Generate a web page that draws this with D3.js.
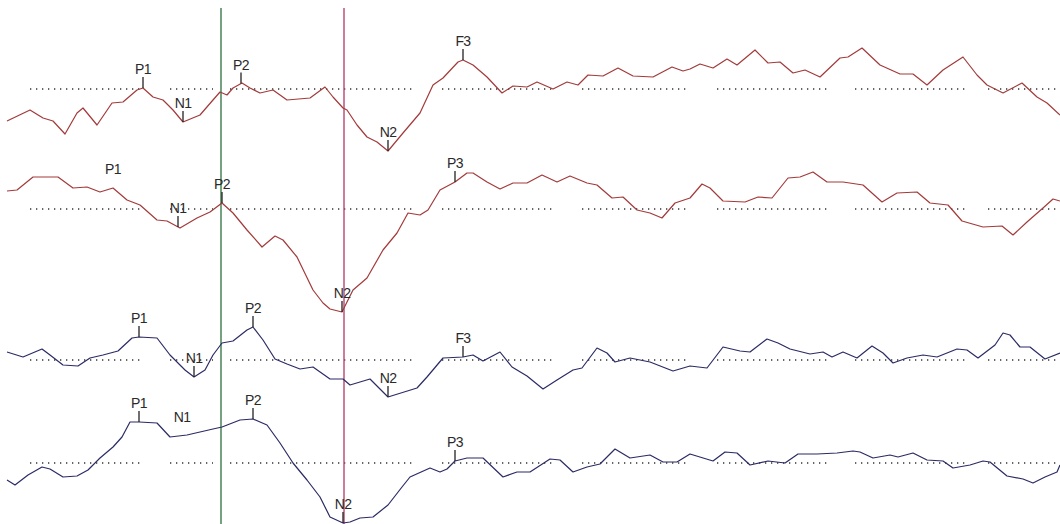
<!DOCTYPE html>
<html lang="en">
<head>
<meta charset="UTF-8" />
<script src="https://d3js.org/d3.v7.min.js"></script>
<title>ERP</title>
<style>
  body { margin: 0; background: #fff; }
  .trace { fill: none; stroke-width: 1.2; stroke-linejoin: round; }
  .base { stroke: #333; stroke-width: 1.3; stroke-dasharray: 1.3 4.7; }
  .tick { stroke: #222; stroke-width: 1.3; }
  .lbl { font-family: "Liberation Sans", Arial, sans-serif; font-size: 14px; fill: #2a2a2a; text-anchor: middle; letter-spacing: -0.6px; }
</style>
</head>
<body>
<script>
var width = 1060, height = 524;

// time (ms) of each sample, value in microvolts
var t1 = [-43,-20,-7,3,15,27,33,47,62,73,87,93,103,113,123,133,150,163,170,177,183,192,200,210,223,237,260,275,283,293,297,307,317,327,338,353,370,383,393,408,413,423,437,452,463,477,487,503,517,528,538,553,568,583,603,622,633,640,650,663,677,687,705,718,730,743,755,770,790,798,812,830,850,863,877,893,913,927,937,953,972,987,997,1010];
var v1 = [-3.2,-2.1,-2.9,-3.2,-4.5,-2.4,-1.9,-3.6,-1.4,-1.3,-0.1,0.1,-0.8,-1.1,-2.1,-3.3,-2.6,-1.1,-0.3,-0.6,0.1,0.6,0.1,-0.4,-0.1,-1.1,-0.9,0.2,-0.8,-1.9,-2.1,-3.6,-4.8,-5.3,-6.2,-4.4,-2.4,0.4,1.1,2.7,2.9,2.4,1.2,-0.4,0.3,0.2,0.7,0.0,0.7,0.4,1.4,1.3,2.1,1.3,1.2,2.2,1.8,2.0,2.5,2.1,3.0,2.4,3.9,2.6,2.7,1.6,1.9,1.2,3.1,3.2,4.1,2.4,1.5,1.5,0.4,1.9,3.2,1.4,0.4,-0.4,0.6,-0.8,-1.4,-2.6];

var t2 = [-43,-33,-17,8,23,37,50,63,77,90,107,117,130,147,160,172,183,197,212,225,233,247,263,273,280,292,303,317,333,347,358,370,378,390,405,417,423,437,450,463,477,492,507,520,537,547,562,573,587,600,612,625,640,652,660,673,695,708,722,738,750,763,777,793,813,832,847,867,880,898,912,933,952,963,977,993,1003,1010];
var v2 = [1.8,1.9,3.2,3.2,2.1,2.2,1.7,2.1,0.9,0.4,-1.1,-1.2,-1.9,-0.9,-0.3,0.6,-0.4,-2.1,-3.8,-2.7,-3.1,-4.8,-8.1,-9.4,-10.0,-10.3,-8.1,-6.9,-4.1,-2.4,-0.4,-0.6,-0.1,1.9,2.7,3.6,3.6,2.7,2.0,2.6,2.6,3.4,2.7,3.3,2.6,2.4,1.1,1.2,-0.1,-0.4,-0.9,0.6,1.1,2.5,2.1,0.8,0.7,1.2,1.1,3.1,3.2,3.7,2.7,2.7,2.4,0.7,1.6,1.7,0.6,0.4,-1.2,-1.8,-1.7,-2.6,-1.3,0.1,1.0,0.8];

var t3 = [-43,-27,-8,0,13,28,40,53,68,82,89,107,120,135,144,155,163,172,183,197,203,213,225,237,250,263,280,293,300,320,338,367,377,393,413,423,433,450,462,477,493,507,523,532,547,557,565,580,600,623,640,657,673,690,700,717,728,740,760,773,782,793,807,822,833,843,857,873,887,907,917,928,945,953,960,970,980,995,1010];
var v3 = [0.8,0.3,1.1,0.5,-0.5,-0.6,0.2,0.5,0.9,2.2,2.3,2.2,0.5,-1.0,-1.7,-1.0,0.5,1.7,1.9,3.0,3.3,2.0,0.1,-0.4,-0.9,-0.7,-1.9,-1.9,-2.5,-1.9,-3.7,-2.8,-1.7,0.2,0.3,0.5,-0.1,0.8,-0.7,-1.6,-2.9,-2.0,-1.0,-0.8,1.2,0.7,-0.2,0.2,-0.2,-1.1,-0.6,-0.8,1.3,0.9,0.8,2.1,1.7,1.1,0.6,0.8,0.3,0.8,0.2,1.4,0.7,-0.3,0.2,0.5,0.3,1.1,1.0,0.2,1.5,2.7,2.5,1.3,1.3,0.1,0.7];

var t4 = [-43,-35,-22,-8,0,13,27,38,50,63,72,80,89,107,120,137,150,163,172,190,203,217,230,243,257,270,280,293,300,310,323,338,352,360,380,390,397,405,417,433,453,467,480,500,510,523,537,550,565,580,600,613,627,640,663,675,687,700,718,735,748,767,787,803,810,823,840,848,863,877,893,903,920,933,940,957,973,983,995,1007,1010];
var v4 = [-1.7,-2.2,-1.2,-0.4,-0.6,-1.4,-1.3,-0.7,0.5,1.6,2.6,4.1,4.1,4.0,2.6,2.8,3.1,3.4,3.6,4.3,4.4,3.8,2.0,0.0,-1.7,-3.4,-5.4,-6.0,-5.9,-5.5,-5.4,-4.2,-2.4,-1.4,-0.5,-0.9,-0.6,0.2,0.5,0.5,-1.4,-0.9,-0.9,0.4,0.3,-0.9,-0.4,-0.1,1.4,0.5,0.8,0.1,0.1,0.9,0.2,1.1,1.0,-0.2,0.2,0.0,0.9,0.9,1.0,1.2,1.1,0.5,0.8,0.6,1.0,0.3,0.2,-0.5,-0.2,0.2,0.1,-1.3,-1.6,-2.0,-1.4,-0.9,-0.2];

// peak labels: [trace, name, time ms, has tick]
var peaks = [
  [0,"P1",93,1],[0,"N1",133,1],[0,"P2",191,1],[0,"N2",338,1],[0,"F3",413,1],
  [1,"P1",63,0],[1,"N1",128,1],[1,"P2",172,1],[1,"N2",292,1],[1,"P3",405,1],
  [2,"P1",89,1],[2,"N1",144,1],[2,"P2",203,1],[2,"N2",338,1],[2,"F3",413,1],
  [3,"P1",89,1],[3,"N1",132,0],[3,"P2",203,1],[3,"N2",293,1],[3,"P3",405,1]
];

var cursors = [171, 294];
var cursorColors = ["#3b7a4b", "#b8456f"];
var traceColors = ["#a33a3a", "#a33a3a", "#2b2b66", "#2b2b66"];
var baselineUV = [89, 209, 360, 463]; // zero line of each channel
// gaps in the dotted zero line (ms)
var gaps = [[90,120],[163,180],[365,392],[503,532],[637,667],[777,805],[917,938]];

var svg = d3.select("body").append("svg").attr("width", width).attr("height", height);

var x = d3.scaleLinear().domain([-50, 1010]).range([0, 1060]);
var ys = baselineUV.map(function(b){
  return d3.scaleLinear().domain([-10, 10]).range([b + 100, b - 100]);
});

var traces = [[t1,v1],[t2,v2],[t3,v3],[t4,v4]].map(function(p){
  return p[0].map(function(t,i){ return {t:t, v:p[1][i]}; });
});

// dotted zero lines, split at gaps
var segs = [];
var start = -20;
gaps.forEach(function(g){ segs.push([start, g[0]]); start = g[1]; });
segs.push([start, 1010]);
ys.forEach(function(y){
  segs.forEach(function(s){
    svg.append("line").attr("class","base")
      .attr("x1", x(s[0])).attr("x2", x(s[1]))
      .attr("y1", y(0)).attr("y2", y(0));
  });
});

// cursors
cursors.forEach(function(c,i){
  svg.append("line").attr("x1", x(c)).attr("x2", x(c))
    .attr("y1", 8).attr("y2", height)
    .attr("stroke", cursorColors[i]).attr("stroke-width", 1.4);
});

// waveforms
traces.forEach(function(d,i){
  var line = d3.line().x(function(p){ return x(p.t); }).y(function(p){ return ys[i](p.v); });
  svg.append("path").attr("class","trace").attr("stroke", traceColors[i]).attr("d", line(d));
});

function valueAt(d, t){
  var k = d3.bisector(function(p){ return p.t; }).left(d, t);
  if (k <= 0) return d[0].v;
  var a = d[k-1], b = d[k];
  return a.v + (b.v - a.v) * (t - a.t) / (b.t - a.t);
}

peaks.forEach(function(p){
  var tr = p[0], t = p[2];
  var yv = ys[tr](valueAt(traces[tr], t));
  var top = yv - 11;
  if (p[3]) {
    svg.append("line").attr("class","tick")
      .attr("x1", x(t)).attr("x2", x(t)).attr("y1", yv).attr("y2", top);
  }
  svg.append("text").attr("class","lbl")
    .attr("x", x(t)).attr("y", top - 3).text(p[1]);
});
</script>
</body>
</html>
